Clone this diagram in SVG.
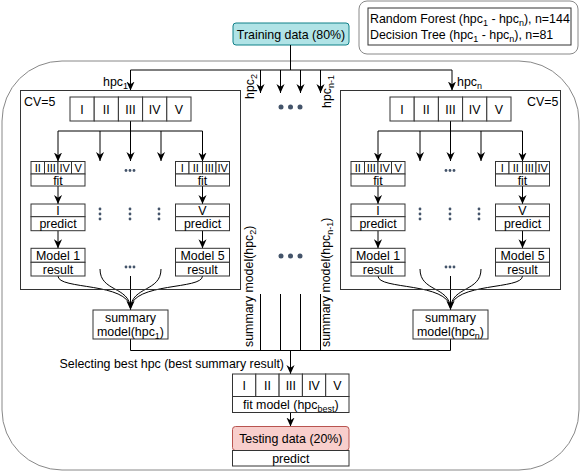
<svg xmlns="http://www.w3.org/2000/svg" width="581" height="472" viewBox="0 0 581 472">
<defs>
<marker id="arr" viewBox="0 0 10 10" refX="10" refY="5" markerWidth="9" markerHeight="9" markerUnits="userSpaceOnUse" orient="auto">
<path d="M0,0.5 L10,5 L0,9.5 L3,5 Z" fill="#000"/>
</marker>
</defs>
<style>
.box{fill:#fff;stroke:#333;stroke-width:1}
.ln{fill:none;stroke:#000;stroke-width:1}
.ar{fill:none;stroke:#000;stroke-width:1;marker-end:url(#arr)}
text{font-family:"Liberation Sans",Arial,sans-serif;font-size:12.4px;fill:#000}
.c{text-anchor:middle}
.e{text-anchor:end}
.s{font-size:11px}
.dot{fill:#44546a}
</style>
<rect width="581" height="472" fill="#fff"/>

<g id="outer">
<rect x="2" y="61" width="577" height="409" rx="60" ry="60" fill="none" stroke="#888" stroke-width="1"/>
</g>

<g id="legend">
<rect x="359" y="1" width="219" height="53" rx="8" fill="#fff" stroke="#888"/>
<rect x="368" y="8" width="203" height="37" fill="#fff" stroke="#333"/>
<text x="370" y="23">Random Forest (hpc<tspan font-size="9" dy="3">1</tspan><tspan dy="-3"> - hpc</tspan><tspan font-size="9" dy="3">n</tspan><tspan dy="-3">), n=144</tspan></text>
<text x="370" y="39">Decision Tree (hpc<tspan font-size="9" dy="3">1</tspan><tspan dy="-3"> - hpc</tspan><tspan font-size="9" dy="3">n</tspan><tspan dy="-3">), n=81</tspan></text>
</g>

<g id="training">
<rect x="233" y="23" width="116" height="22" rx="3" fill="#b0e3e6" stroke="#0e8088"/>
<text class="c" x="291" y="38.5">Training data (80%)</text>
</g>

<g id="connectors">
<path class="ln" d="M290.5,45 V70 M130.5,70 H452"/>
<path class="ar" d="M130.5,70 V90.5"/>
<path class="ar" d="M452,70 V90.5"/>
<path class="ar" d="M260.5,70 V93"/>
<path class="ar" d="M280.5,70 V93"/>
<path class="ar" d="M300.5,70 V93"/>
<path class="ar" d="M320.5,70 V93"/>
<path class="ln" d="M130.5,121 V131 M58,131 H202.5"/>
<path class="ar" d="M58,131 V161.5"/>
<path class="ar" d="M100,131 V161"/>
<path class="ar" d="M130.5,131 V161"/>
<path class="ar" d="M161,131 V161"/>
<path class="ar" d="M202.5,131 V161.5"/>
<path class="ar" d="M58,186 V204"/>
<path class="ar" d="M58,230.7 V248.3"/>
<path class="ar" d="M202.5,186 V204"/>
<path class="ar" d="M202.5,230.7 V248.3"/>
<path class="ln" d="M58,276 C58,290 128,282 130.5,308"/>
<path class="ln" d="M100,269 C100,292 129,286 130.5,308"/>
<path class="ln" d="M161,269 C161,292 132,286 130.5,308"/>
<path class="ln" d="M202.5,276 C202.5,290 133,282 130.5,308"/>
<path class="ar" d="M130.5,276 V310"/>
<path class="ln" d="M450.5,121 V131 M378,131 H522.5"/>
<path class="ar" d="M378,131 V161.5"/>
<path class="ar" d="M420,131 V161"/>
<path class="ar" d="M450.5,131 V161"/>
<path class="ar" d="M481,131 V161"/>
<path class="ar" d="M522.5,131 V161.5"/>
<path class="ar" d="M378,186 V204"/>
<path class="ar" d="M378,230.7 V248.3"/>
<path class="ar" d="M522.5,186 V204"/>
<path class="ar" d="M522.5,230.7 V248.3"/>
<path class="ln" d="M378,276 C378,290 448,282 450.5,308"/>
<path class="ln" d="M420,269 C420,292 449,286 450.5,308"/>
<path class="ln" d="M481,269 C481,292 452,286 450.5,308"/>
<path class="ln" d="M522.5,276 C522.5,290 453,282 450.5,308"/>
<path class="ar" d="M450.5,276 V310"/>
<path class="ln" d="M130.5,339 V350.5 H450.5 V339"/>
<path class="ln" d="M260.5,294 V350.5 M280.5,294 V350.5 M300.5,294 V350.5 M320.5,294 V350.5"/>
<path class="ar" d="M290.5,350.5 V374"/>
<path class="ar" d="M290.5,412.5 V426.5"/>
</g>

<g id="labels">
<text class="e" x="128" y="86">hpc<tspan font-size="9" dy="3">1</tspan></text>
<text x="457" y="86">hpc<tspan font-size="9" dy="3">n</tspan></text>
<text transform="translate(254,99) rotate(-90)">hpc<tspan font-size="9" dy="3">2</tspan></text>
<text transform="translate(331,108) rotate(-90)">hpc<tspan font-size="9" dy="3">n-1</tspan></text>
<text transform="translate(253,347) rotate(-90)">summary model(hpc<tspan font-size="9" dy="3">2</tspan><tspan dy="-3">)</tspan></text>
<text transform="translate(330,347) rotate(-90)">summary model(hpc<tspan font-size="9" dy="3">n-1</tspan><tspan dy="-3">)</tspan></text>
<text class="e" x="284" y="368">Selecting best hpc (best summary result)</text>
</g>

<g id="dots">
<circle class="dot" cx="281" cy="107" r="2.5"/><circle class="dot" cx="290.5" cy="107" r="2.5"/><circle class="dot" cx="300" cy="107" r="2.5"/>
<circle class="dot" cx="281" cy="256" r="2.5"/><circle class="dot" cx="290.5" cy="256" r="2.5"/><circle class="dot" cx="300" cy="256" r="2.5"/>
<g id="dotsL">
<circle class="dot" cx="126" cy="170.5" r="1.4"/><circle class="dot" cx="130" cy="170.5" r="1.4"/><circle class="dot" cx="134" cy="170.5" r="1.4"/>
<circle class="dot" cx="126" cy="267" r="1.4"/><circle class="dot" cx="130" cy="267" r="1.4"/><circle class="dot" cx="134" cy="267" r="1.4"/>
<circle class="dot" cx="100" cy="209" r="1.4"/><circle class="dot" cx="100" cy="214" r="1.4"/><circle class="dot" cx="100" cy="219" r="1.4"/>
<circle class="dot" cx="130" cy="209" r="1.4"/><circle class="dot" cx="130" cy="214" r="1.4"/><circle class="dot" cx="130" cy="219" r="1.4"/>
<circle class="dot" cx="159" cy="209" r="1.4"/><circle class="dot" cx="159" cy="214" r="1.4"/><circle class="dot" cx="159" cy="219" r="1.4"/>
</g>
<g id="dotsR" transform="translate(320,0)">
<circle class="dot" cx="126" cy="170.5" r="1.4"/><circle class="dot" cx="130" cy="170.5" r="1.4"/><circle class="dot" cx="134" cy="170.5" r="1.4"/>
<circle class="dot" cx="126" cy="267" r="1.4"/><circle class="dot" cx="130" cy="267" r="1.4"/><circle class="dot" cx="134" cy="267" r="1.4"/>
<circle class="dot" cx="100" cy="209" r="1.4"/><circle class="dot" cx="100" cy="214" r="1.4"/><circle class="dot" cx="100" cy="219" r="1.4"/>
<circle class="dot" cx="130" cy="209" r="1.4"/><circle class="dot" cx="130" cy="214" r="1.4"/><circle class="dot" cx="130" cy="219" r="1.4"/>
<circle class="dot" cx="159" cy="209" r="1.4"/><circle class="dot" cx="159" cy="214" r="1.4"/><circle class="dot" cx="159" cy="219" r="1.4"/>
</g>
</g>

<g id="panel-left">
<rect x="20.5" y="90.5" width="220" height="199" fill="none" stroke="#333"/>
<text x="24" y="106">CV=5</text>
</g>
<g id="panel-right">
<rect x="340.5" y="90.5" width="220" height="199" fill="none" stroke="#333"/>
<text x="527" y="106">CV=5</text>
</g>

<g id="folds-left">
<rect class="box" x="70" y="97" width="24.2" height="24"/><rect class="box" x="94.2" y="97" width="24.2" height="24"/><rect class="box" x="118.4" y="97" width="24.2" height="24"/><rect class="box" x="142.6" y="97" width="24.2" height="24"/><rect class="box" x="166.8" y="97" width="24.2" height="24"/>
<text class="c" x="82.1" y="113.5">I</text><text class="c" x="106.3" y="113.5">II</text><text class="c" x="130.5" y="113.5">III</text><text class="c" x="154.7" y="113.5">IV</text><text class="c" x="178.9" y="113.5">V</text>
</g>
<g id="folds-right">
<rect class="box" x="390" y="97" width="24.2" height="24"/><rect class="box" x="414.2" y="97" width="24.2" height="24"/><rect class="box" x="438.4" y="97" width="24.2" height="24"/><rect class="box" x="462.6" y="97" width="24.2" height="24"/><rect class="box" x="486.8" y="97" width="24.2" height="24"/>
<text class="c" x="402.1" y="113.5">I</text><text class="c" x="426.3" y="113.5">II</text><text class="c" x="450.5" y="113.5">III</text><text class="c" x="474.7" y="113.5">IV</text><text class="c" x="498.9" y="113.5">V</text>
</g>

<g id="fit1-left">
<rect class="box" x="31" y="161.5" width="13.5" height="12.5"/><rect class="box" x="44.5" y="161.5" width="13.5" height="12.5"/><rect class="box" x="58" y="161.5" width="13.5" height="12.5"/><rect class="box" x="71.5" y="161.5" width="13.5" height="12.5"/>
<rect class="box" x="31" y="174" width="54" height="12"/>
<text class="c s" x="37.75" y="172">II</text><text class="c s" x="51.25" y="172">III</text><text class="c s" x="64.75" y="172">IV</text><text class="c s" x="78.25" y="172">V</text>
<text class="c" x="58" y="184.5">fit</text>
</g>
<g id="fit5-left">
<rect class="box" x="175.5" y="161.5" width="13.5" height="12.5"/><rect class="box" x="189" y="161.5" width="13.5" height="12.5"/><rect class="box" x="202.5" y="161.5" width="13.5" height="12.5"/><rect class="box" x="216" y="161.5" width="13.5" height="12.5"/>
<rect class="box" x="175.5" y="174" width="54" height="12"/>
<text class="c s" x="182.25" y="172">I</text><text class="c s" x="195.75" y="172">II</text><text class="c s" x="209.25" y="172">III</text><text class="c s" x="222.75" y="172">IV</text>
<text class="c" x="202.5" y="184.5">fit</text>
</g>
<g id="pred1-left">
<rect class="box" x="31" y="204" width="54" height="12.7"/><rect class="box" x="31" y="216.7" width="54" height="14"/>
<text class="c" x="58" y="214.5">I</text><text class="c" x="58" y="228">predict</text>
</g>
<g id="pred5-left">
<rect class="box" x="175.5" y="204" width="54" height="12.7"/><rect class="box" x="175.5" y="216.7" width="54" height="14"/>
<text class="c" x="202.5" y="214.5">V</text><text class="c" x="202.5" y="228">predict</text>
</g>
<g id="model1-left">
<rect class="box" x="31" y="248.3" width="54" height="14"/><rect class="box" x="31" y="262.3" width="54" height="13.7"/>
<text class="c" x="58" y="259.5">Model 1</text><text class="c" x="58" y="273.5">result</text>
</g>
<g id="model5-left">
<rect class="box" x="175.5" y="248.3" width="54" height="14"/><rect class="box" x="175.5" y="262.3" width="54" height="13.7"/>
<text class="c" x="202.5" y="259.5">Model 5</text><text class="c" x="202.5" y="273.5">result</text>
</g>
<g id="summary-left">
<rect class="box" x="93" y="310" width="75" height="29"/>
<text class="c" x="130.5" y="322">summary</text>
<text class="c" x="130.5" y="336">model(hpc<tspan font-size="9" dy="3">1</tspan><tspan dy="-3">)</tspan></text>
</g>

<g id="fit1-right">
<rect class="box" x="351" y="161.5" width="13.5" height="12.5"/><rect class="box" x="364.5" y="161.5" width="13.5" height="12.5"/><rect class="box" x="378" y="161.5" width="13.5" height="12.5"/><rect class="box" x="391.5" y="161.5" width="13.5" height="12.5"/>
<rect class="box" x="351" y="174" width="54" height="12"/>
<text class="c s" x="357.75" y="172">II</text><text class="c s" x="371.25" y="172">III</text><text class="c s" x="384.75" y="172">IV</text><text class="c s" x="398.25" y="172">V</text>
<text class="c" x="378" y="184.5">fit</text>
</g>
<g id="fit5-right">
<rect class="box" x="495.5" y="161.5" width="13.5" height="12.5"/><rect class="box" x="509" y="161.5" width="13.5" height="12.5"/><rect class="box" x="522.5" y="161.5" width="13.5" height="12.5"/><rect class="box" x="536" y="161.5" width="13.5" height="12.5"/>
<rect class="box" x="495.5" y="174" width="54" height="12"/>
<text class="c s" x="502.25" y="172">I</text><text class="c s" x="515.75" y="172">II</text><text class="c s" x="529.25" y="172">III</text><text class="c s" x="542.75" y="172">IV</text>
<text class="c" x="522.5" y="184.5">fit</text>
</g>
<g id="pred1-right">
<rect class="box" x="351" y="204" width="54" height="12.7"/><rect class="box" x="351" y="216.7" width="54" height="14"/>
<text class="c" x="378" y="214.5">I</text><text class="c" x="378" y="228">predict</text>
</g>
<g id="pred5-right">
<rect class="box" x="495.5" y="204" width="54" height="12.7"/><rect class="box" x="495.5" y="216.7" width="54" height="14"/>
<text class="c" x="522.5" y="214.5">V</text><text class="c" x="522.5" y="228">predict</text>
</g>
<g id="model1-right">
<rect class="box" x="351" y="248.3" width="54" height="14"/><rect class="box" x="351" y="262.3" width="54" height="13.7"/>
<text class="c" x="378" y="259.5">Model 1</text><text class="c" x="378" y="273.5">result</text>
</g>
<g id="model5-right">
<rect class="box" x="495.5" y="248.3" width="54" height="14"/><rect class="box" x="495.5" y="262.3" width="54" height="13.7"/>
<text class="c" x="522.5" y="259.5">Model 5</text><text class="c" x="522.5" y="273.5">result</text>
</g>
<g id="summary-right">
<rect class="box" x="413" y="310" width="75" height="29"/>
<text class="c" x="450.5" y="322">summary</text>
<text class="c" x="450.5" y="336">model(hpc<tspan font-size="9" dy="3">n</tspan><tspan dy="-3">)</tspan></text>
</g>

<g id="fit-best">
<rect class="box" x="232.5" y="374" width="23.3" height="22.5"/><rect class="box" x="255.8" y="374" width="23.3" height="22.5"/><rect class="box" x="279.1" y="374" width="23.3" height="22.5"/><rect class="box" x="302.4" y="374" width="23.3" height="22.5"/><rect class="box" x="325.7" y="374" width="23.3" height="22.5"/>
<rect class="box" x="232.5" y="396.5" width="116.5" height="16"/>
<text class="c" x="244.2" y="390">I</text><text class="c" x="267.5" y="390">II</text><text class="c" x="290.8" y="390">III</text><text class="c" x="314" y="390">IV</text><text class="c" x="337.3" y="390">V</text>
<text class="c" x="290.8" y="409">fit model (hpc<tspan font-size="9" dy="3">best</tspan><tspan dy="-3">)</tspan></text>
</g>

<g id="testing">
<rect x="232.5" y="426.5" width="116.5" height="24" rx="3" fill="#f8cecc" stroke="#b85450"/>
<text class="c" x="290.8" y="443">Testing data (20%)</text>
<rect class="box" x="232.5" y="450.5" width="116.5" height="15.5"/>
<text class="c" x="290.8" y="462.5">predict</text>
</g>
</svg>
